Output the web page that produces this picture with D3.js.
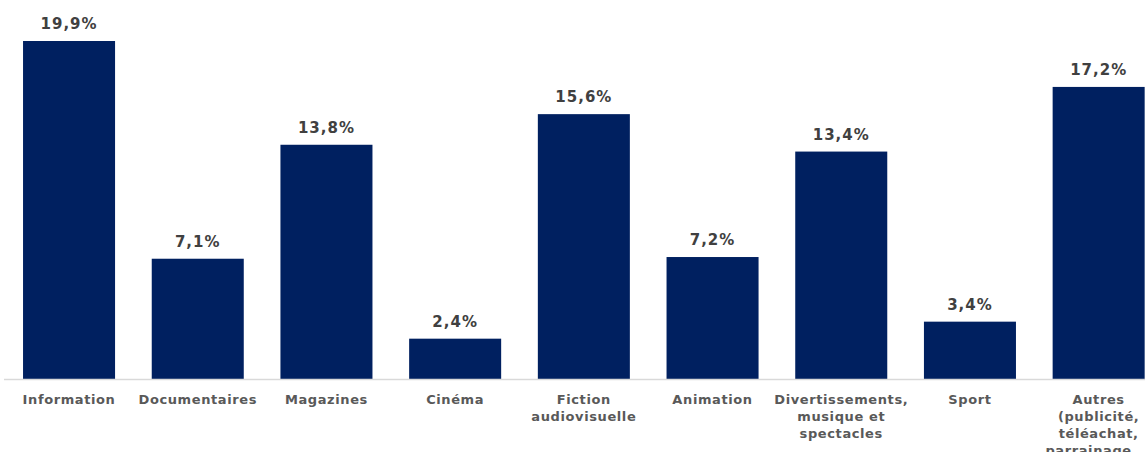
<!DOCTYPE html>
<html>
<head>
<meta charset="utf-8">
<script src="https://cdn.jsdelivr.net/npm/d3@7"></script>
<style>
  html, body { margin: 0; padding: 0; background: #fff; overflow: hidden; }
  svg { display: block; }
  text { font-family: Verdana, "DejaVu Sans", sans-serif; font-weight: bold; }
</style>
</head>
<body>
<svg id="chart" width="1145" height="452"></svg>
<script>
// Répartition des programmes par genre (%)
const categories = [
  ["Information"],
  ["Documentaires"],
  ["Magazines"],
  ["Cinéma"],
  ["Fiction", "audiovisuelle"],
  ["Animation"],
  ["Divertissements,", "musique et", "spectacles"],
  ["Sport"],
  ["Autres", "(publicité,", "téléachat,", "parrainage…)"]
];
const values = [19.9, 7.1, 13.8, 2.4, 15.6, 7.2, 13.4, 3.4, 17.2];
const keys = categories.map(c => c.join(" "));

const svg = d3.select("#chart");
const baseY = 379.5;

const x = d3.scaleBand()
  .domain(keys)
  .range([4.7, 1163])
  .paddingInner(0.285)
  .paddingOuter(0.1425);

const y = d3.scaleLinear()
  .domain([0, 19.9])
  .range([baseY, 41]);

const fmt = v => d3.format(".1f")(v).replace(".", ",") + "%";

// barres
svg.append("g").selectAll("rect")
  .data(values)
  .join("rect")
  .attr("x", (d, i) => x(keys[i]))
  .attr("width", x.bandwidth())
  .attr("y", d => y(d))
  .attr("height", d => baseY - y(d))
  .attr("fill", "#002060");

// axe horizontal
const xAxis = d3.axisBottom(x).tickSize(0).tickFormat("");
const gx = svg.append("g").attr("transform", `translate(0,${baseY})`).call(xAxis);
gx.select(".domain").attr("stroke", "#d9d9d9").attr("stroke-width", 1.5)
  .attr("d", "M4,0H1145");

// étiquettes de catégories
const lab = svg.append("g").selectAll("text")
  .data(categories)
  .join("text")
  .attr("x", (d, i) => x(keys[i]) + x.bandwidth() / 2)
  .attr("y", 404)
  .attr("text-anchor", "middle")
  .attr("fill", "#595959")
  .attr("font-size", 13)
  .attr("letter-spacing", 0.6);
lab.selectAll("tspan")
  .data(d => d)
  .join("tspan")
  .attr("x", function() { return this.parentNode.getAttribute("x"); })
  .attr("dy", (d, i) => i === 0 ? 0 : 17)
  .text(d => d);

// valeurs au-dessus des barres
svg.append("g").selectAll("text")
  .data(values)
  .join("text")
  .attr("x", (d, i) => x(keys[i]) + x.bandwidth() / 2)
  .attr("y", d => y(d) - 12)
  .attr("text-anchor", "middle")
  .attr("fill", "#404040")
  .attr("font-size", 15)
  .attr("letter-spacing", 1)
  .text(d => fmt(d));
</script>
</body>
</html>
